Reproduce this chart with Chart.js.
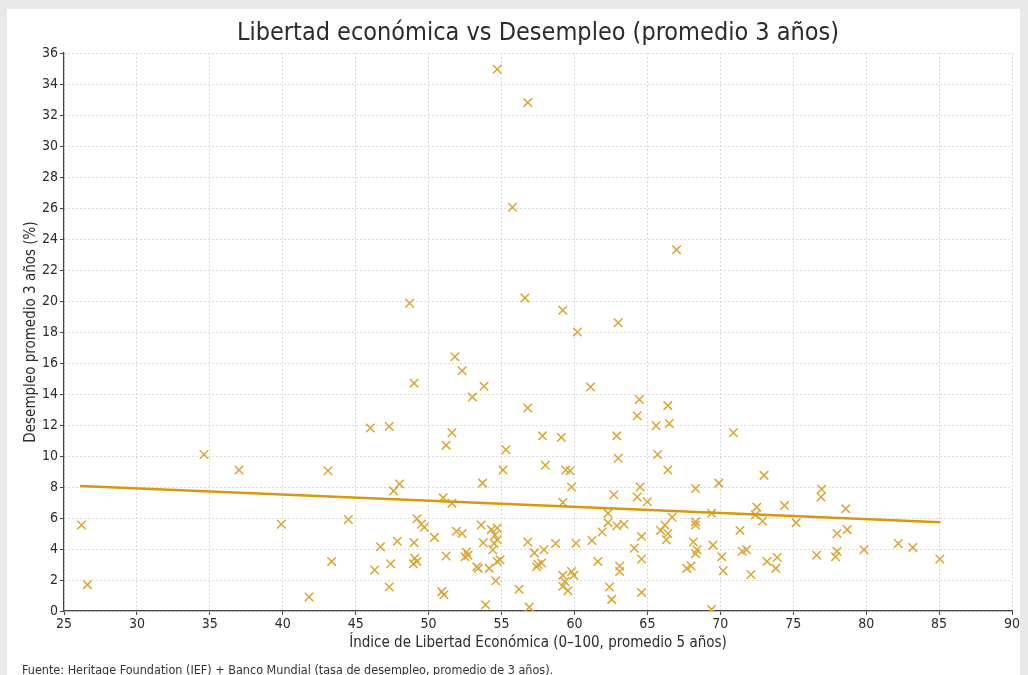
<!DOCTYPE html>
<html>
<head>
<meta charset="utf-8">
<script src="https://cdn.jsdelivr.net/npm/chart.js@4.4.1/dist/chart.umd.min.js"></script>
<style>
  html, body { margin: 0; padding: 0; background: #e9e9e9; }
  #card { position: absolute; left: 7px; top: 9px; width: 1013px; height: 680px; background: #fff; }
  #wrap { position: absolute; left: 0; top: 0; width: 1028px; height: 675px; }
  #source {
    position: absolute; left: 22px; top: 662px; white-space: nowrap;
    font: 12.5px 'DejaVu Sans Condensed', 'DejaVu Sans', sans-serif; color: #333;
  }
</style>
</head>
<body>
<div id="card"></div>
<div id="wrap"><canvas id="chart" width="1028" height="675"></canvas></div>
<div id="source">Fuente: Heritage Foundation (IEF) + Banco Mundial (tasa de desempleo, promedio de 3 años).</div>
<script>
/* --- data --- */

// Índice de Libertad Económica (x), one entry per country
const freedomIndex = [
  26.2, 26.6, 34.6, 37.0, 39.9, 41.8, 43.1, 43.35, 44.5, 46.0,
  46.3, 46.7, 47.3, 47.3, 47.4, 47.6, 47.85, 48.0, 48.7, 49.0,
  49.0, 49.05, 49.2, 48.95, 49.2, 49.5, 49.7, 50.4, 50.9, 51.05,
  51.0, 51.2, 51.2, 51.6, 51.6, 51.8, 51.9, 52.3, 52.3, 52.6,
  52.5, 52.7, 53.0, 53.3, 53.4, 53.6, 53.7, 53.75, 53.8, 53.9,
  54.15, 54.3, 54.7, 54.55, 54.7, 54.5, 54.4, 54.6, 54.7, 54.9,
  54.7, 55.1, 55.3, 55.75, 56.2, 56.6, 56.8, 56.8, 56.8, 56.9,
  57.25, 57.4, 57.5, 57.75, 57.8, 57.9, 58.0, 58.7, 59.1, 59.2,
  59.2, 59.4, 59.7, 59.8, 59.2, 59.8, 59.95, 59.35, 59.2, 59.55,
  60.1, 60.2, 61.1, 61.2, 61.6, 61.9, 62.3, 62.3, 62.4, 62.55,
  62.7, 62.9, 62.9, 63.0, 63.0, 63.1, 63.1, 63.4, 64.1, 64.3,
  64.3, 64.45, 64.5, 64.6, 64.6, 64.6, 65.0, 65.6, 65.7, 65.9,
  66.2, 66.4, 66.3, 66.4, 66.5, 66.4, 66.7, 67.0, 67.7, 68.0,
  68.3, 68.3, 68.3, 68.15, 68.4, 68.3, 69.4, 69.5, 69.4, 69.9,
  70.1, 70.2, 70.9, 71.35, 71.5, 71.8, 72.1, 72.4, 72.5, 72.9,
  73.0, 73.2, 73.9, 73.8, 74.4, 75.2, 76.6, 76.9, 76.95, 77.9,
  78.0, 78.0, 78.6, 78.7, 79.85, 82.2, 83.2, 85.05
];

// Desempleo promedio 3 años (%) (y), same order as freedomIndex
const unemployment = [
  5.55, 1.7, 10.1, 9.1, 5.6, 0.9, 9.05, 3.2, 5.9, 11.8,
  2.65, 4.15, 11.9, 1.55, 3.05, 7.75, 4.5, 8.2, 19.85, 14.7,
  4.4, 3.4, 3.2, 3.05, 5.95, 5.6, 5.4, 4.75, 1.25, 1.05,
  7.3, 10.7, 3.55, 11.5, 6.95, 16.4, 5.15, 15.5, 5.0, 3.8,
  3.5, 3.6, 13.8, 2.85, 2.75, 5.55, 8.25, 4.4, 14.5, 0.4,
  2.75, 5.25, 5.35, 4.9, 4.6, 4.35, 3.95, 1.95, 3.2, 3.3,
  34.95, 9.1, 10.4, 26.05, 1.4, 20.2, 32.8, 13.1, 4.45, 0.25,
  3.75, 2.85, 3.0, 3.1, 11.3, 3.95, 9.4, 4.35, 11.2, 19.4,
  7.0, 9.1, 9.05, 8.0, 2.3, 2.55, 2.3, 1.9, 1.6, 1.3,
  4.37, 18.0, 14.45, 4.55, 3.2, 5.1, 6.3, 5.7, 1.55, 0.75,
  7.5, 11.3, 5.5, 18.6, 9.85, 2.9, 2.55, 5.6, 4.05, 12.6,
  7.35, 13.65, 8.0, 4.8, 3.35, 1.2, 7.05, 11.95, 10.1, 5.2,
  5.55, 5.0, 4.6, 13.25, 12.1, 9.1, 6.05, 23.3, 2.75, 2.9,
  7.9, 5.75, 5.55, 4.45, 3.95, 3.7, 6.3, 4.25, 0.1, 8.25,
  3.5, 2.6, 11.5, 5.2, 3.85, 3.95, 2.35, 6.2, 6.7, 5.8,
  8.75, 3.2, 3.45, 2.75, 6.8, 5.7, 3.6, 7.35, 7.85, 3.5,
  3.85, 5.0, 6.6, 5.25, 3.95, 4.35, 4.1, 3.35
];

// fitted trend line, ends as seen in the picture
const trendX = [26.1, 85.1];
const trendY = [8.07, 5.72];

// axis ranges / tick spacing
const xAxis = { min: 25, max: 90, step: 5 };
const yAxis = { min: 0, max: 36, step: 2 };

const MARKER = '#dca532';
const TREND = '#d8980c';
const FONT = "'DejaVu Sans Condensed', 'DejaVu Sans', sans-serif";
const TEXT = '#2b2b2b';
const AXIS = '#444';
const GRID = '#d9d9d9';

const points = freedomIndex.map((x, i) => ({ x, y: unemployment[i] }));
const trend = trendX.map((x, i) => ({ x, y: trendY[i] }));

new Chart(document.getElementById('chart'), {
  type: 'scatter',
  data: {
    datasets: [
      {
        // drawn on top of the markers
        type: 'line',
        data: trend,
        borderColor: TREND,
        borderWidth: 2.5,
        pointRadius: 0,
        fill: false,
      },
      {
        data: points,
        pointStyle: 'crossRot',
        pointRadius: 6,
        borderWidth: 1.5,
        borderColor: MARKER,
        backgroundColor: MARKER,
      }
    ]
  },
  options: {
    responsive: false,
    animation: false,
    events: [],
    layout: { padding: { left: 14, right: 16, top: 0, bottom: 20 } },
    plugins: {
      legend: { display: false },
      tooltip: { enabled: false },
      title: {
        display: true,
        fullSize: false,   // centre over the plot area, not the canvas
        text: 'Libertad económica vs Desempleo (promedio 3 años)',
        color: TEXT,
        font: { family: FONT, size: 25, weight: 'normal' },
        padding: { top: 18, bottom: 5 },
      }
    },
    scales: {
      x: {
        type: 'linear',
        min: xAxis.min,
        max: xAxis.max,
        afterFit: (s) => { s.height = 44; },
        ticks: {
          stepSize: xAxis.step,
          padding: 1,
          color: TEXT,
          font: { family: FONT, size: 14 },
        },
        grid: { color: GRID, tickColor: AXIS, tickLength: 4, lineWidth: 1 },
        border: { color: AXIS, width: 1.2, dash: [2, 2] },
        title: {
          display: true,
          text: 'Índice de Libertad Económica (0–100, promedio 5 años)',
          color: TEXT,
          font: { family: FONT, size: 15 },
          padding: { top: 0, bottom: 3 },
        }
      },
      y: {
        type: 'linear',
        min: yAxis.min,
        max: yAxis.max,
        afterFit: (s) => { s.width = 50; },
        ticks: {
          stepSize: yAxis.step,
          padding: 2,
          color: TEXT,
          font: { family: FONT, size: 14 },
        },
        grid: { color: GRID, tickColor: AXIS, tickLength: 4, lineWidth: 1 },
        border: { color: AXIS, width: 1.2, dash: [2, 2] },
        title: {
          display: true,
          text: 'Desempleo promedio 3 años (%)',
          color: TEXT,
          font: { family: FONT, size: 15 },
          padding: { top: 8, bottom: 0 },
        }
      }
    }
  }
});
</script>
</body>
</html>
